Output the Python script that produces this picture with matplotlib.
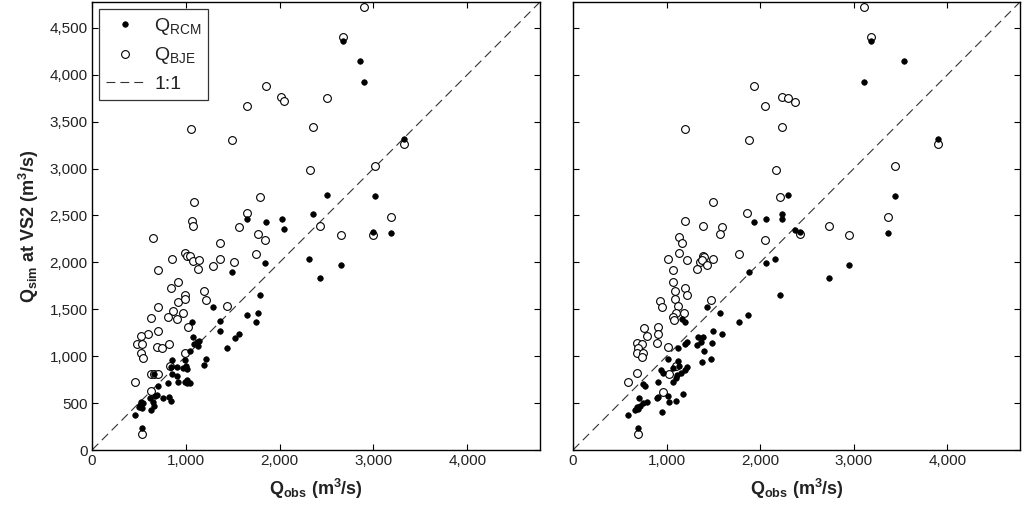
import matplotlib
matplotlib.use("Agg")
import matplotlib.pyplot as plt
from matplotlib.ticker import FuncFormatter

plt.rcParams['font.family'] = ['Liberation Sans', 'DejaVu Sans']
plt.rcParams['mathtext.default'] = 'regular'

# ---- Left panel data (Q_obs, Q_sim) ----
left_rcm_x = [2670, 2860, 2895, 3323, 2501, 3017, 1647, 1854, 2020, 2355, 2042, 2992, 3188, 2316, 2654,
              2426, 1843, 1494, 1793, 1291, 1651, 1772, 1743, 1363, 1363, 1064, 1075, 1046, 1117, 1145,
              1134, 1089, 1519, 1566, 1444, 1217, 1195, 857, 843, 911, 975, 1000, 1011, 993, 857,
              904, 921, 815, 993, 1017, 1011, 1040, 708, 619, 672, 690, 754, 825, 840, 548,
              523, 512, 530, 502, 647, 665, 630, 459, 537, 665]
left_rcm_y = [4360, 4150, 3920, 3319, 2722, 2708, 2466, 2434, 2466, 2516, 2353, 2321, 2313, 2036, 1976,
              1834, 1990, 1894, 1652, 1521, 1436, 1461, 1365, 1379, 1269, 1365, 1208, 1052, 1148, 1165,
              1112, 1133, 1197, 1233, 1091, 970, 909, 963, 888, 885, 875, 900, 865, 959, 807,
              789, 728, 718, 728, 711, 746, 715, 682, 551, 576, 586, 551, 562, 522, 497,
              515, 480, 444, 455, 515, 469, 426, 373, 231, 815]

left_bje_x = [2895, 2670, 1855, 2017, 2042, 2500, 1647, 1060, 1491, 2355, 3323, 3013, 2319, 1793, 1085,
              1647, 3184, 1064, 1078, 1569, 2430, 2654, 2992, 655, 1768, 1839, 1747, 1363, 854, 989,
              1014, 1046, 1081, 1145, 1131, 1288, 1363, 1515, 701, 918, 843, 1192, 1213, 921, 993,
              989, 704, 1444, 630, 861, 968, 811, 907, 704, 1021, 594, 520, 480, 537, 690,
              747, 822, 520, 548, 989, 832, 630, 660, 700, 459, 630, 534]
left_bje_y = [4720, 4400, 3880, 3765, 3717, 3750, 3667, 3425, 3308, 3440, 3260, 3031, 2982, 2694, 2647,
              2530, 2481, 2445, 2388, 2374, 2385, 2289, 2296, 2263, 2303, 2239, 2086, 2207, 2036, 2097,
              2068, 2068, 2012, 2026, 1930, 1965, 2036, 2001, 1919, 1788, 1724, 1692, 1596, 1581, 1652,
              1606, 1521, 1535, 1404, 1479, 1464, 1421, 1393, 1272, 1308, 1233, 1212, 1127, 1133, 1101,
              1087, 1133, 1031, 981, 1031, 899, 815, 815, 810, 722, 626, 167]

# ---- Right panel data (Q_obs, Q_sim) ----
right_rcm_x = [3188, 3532, 3113, 3895, 2298, 3437, 1935, 2060, 2234, 2234, 2373, 2423, 3365, 2060, 2163,
               2740, 2946, 1878, 2209, 1433, 1160, 1195, 1565, 1768, 1868, 1117, 1213, 1195, 1337, 1391,
               1366, 1320, 1497, 1593, 1490, 1401, 1383, 1469, 1017, 1124, 1135, 1071, 1213, 1195, 1149,
               1107, 1071, 1096, 939, 957, 904, 750, 768, 904, 893, 1010, 1028, 1099, 1170, 708,
               680, 715, 750, 786, 697, 661, 584, 953, 690]
right_rcm_y = [4360, 4147, 3920, 3316, 2722, 2708, 2434, 2466, 2516, 2466, 2349, 2324, 2313, 1990, 2036,
               1834, 1976, 1894, 1652, 1521, 1393, 1368, 1464, 1368, 1439, 1084, 1155, 1130, 1208, 1208,
               1155, 1119, 1269, 1233, 1144, 1055, 941, 970, 967, 952, 895, 871, 888, 853, 824,
               800, 728, 764, 853, 818, 722, 700, 686, 562, 551, 576, 515, 526, 597, 551,
               455, 469, 497, 515, 434, 426, 373, 408, 231]

right_bje_x = [3113, 3188, 1935, 2234, 2298, 2372, 2056, 1192, 1878, 2234, 3437, 2166, 2212, 1494, 1864,
               3365, 1192, 1384, 1590, 2740, 2430, 2946, 2056, 1772, 1569, 3895, 1135, 1160, 1131, 1010,
               1220, 1391, 1398, 1355, 1380, 1326, 1433, 1497, 1071, 1064, 1088, 1195, 1213, 1088, 928,
               953, 1470, 1124, 1188, 1099, 1064, 1078, 761, 904, 786, 680, 733, 697, 680, 750,
               739, 904, 893, 1010, 1025, 1100, 680, 584, 957, 690]
right_bje_y = [4720, 4400, 3880, 3763, 3756, 3713, 3667, 3425, 3308, 3440, 3031, 2982, 2697, 2647, 2530,
               2481, 2445, 2385, 2374, 2385, 2300, 2289, 2239, 2086, 2303, 3262, 2268, 2204, 2097, 2036,
               2026, 2068, 2054, 2008, 2026, 1926, 1972, 2036, 1919, 1788, 1695, 1724, 1652, 1606, 1588,
               1521, 1599, 1535, 1464, 1464, 1421, 1386, 1297, 1315, 1215, 1144, 1130, 1084, 1031, 1031,
               988, 1233, 1137, 1101, 810, 900, 818, 722, 622, 167]

axis_max = 4775
x_ticks = [0, 1000, 2000, 3000, 4000]
y_ticks = [0, 500, 1000, 1500, 2000, 2500, 3000, 3500, 4000, 4500]

fig = plt.figure(figsize=(10.24, 5.08), dpi=100)
ax1 = fig.add_axes([92 / 1024, 58 / 508, 448 / 1024, 448 / 508])
ax2 = fig.add_axes([573 / 1024, 58 / 508, 447 / 1024, 448 / 508])

fmt = FuncFormatter(lambda v, p: f"{int(v):,}")
txt_color = '#222222'


def draw(ax, rx, ry, bx, by, ylabels):
    ax.plot([0, axis_max], [0, axis_max], linestyle=(0, (8, 4.5)), color='#333333', lw=0.8,
            label='1:1', zorder=1)
    ax.plot(bx, by, linestyle='none', marker='o', ms=5.6, mfc='white', mec='black', mew=0.8,
            label='Q$_{BJE}$', zorder=2)
    ax.plot(rx, ry, linestyle='none', marker='o', ms=4.0, mfc='black', mec='black', mew=0.5,
            label='Q$_{RCM}$', zorder=3)
    ax.set_xlim(0, axis_max)
    ax.set_ylim(0, axis_max)
    ax.set_xticks(x_ticks)
    ax.set_yticks(y_ticks)
    ax.xaxis.set_major_formatter(fmt)
    ax.yaxis.set_major_formatter(fmt)
    if not ylabels:
        ax.set_yticklabels([])
    ax.tick_params(direction='in', top=True, right=True, length=4, width=0.8,
                   labelsize=11, labelcolor=txt_color, pad=3)
    for s in ax.spines.values():
        s.set_linewidth(1.0)
        s.set_color('black')
    ax.set_xlabel('Q$_{obs}$ (m$^{3}$/s)', fontsize=13, fontweight='bold', labelpad=6,
                  color=txt_color)


draw(ax1, left_rcm_x, left_rcm_y, left_bje_x, left_bje_y, True)
draw(ax2, right_rcm_x, right_rcm_y, right_bje_x, right_bje_y, False)
ax1.set_ylabel('Q$_{sim}$ at VS2 (m$^{3}$/s)', fontsize=13, fontweight='bold', labelpad=6,
               color=txt_color)

h, l = ax1.get_legend_handles_labels()
order = [2, 1, 0]
leg = ax1.legend([h[i] for i in order], [l[i] for i in order], loc='upper left',
                 fontsize=14, frameon=True, fancybox=False, borderpad=0.35,
                 handlelength=2.0, handletextpad=0.5, labelspacing=0.45,
                 bbox_to_anchor=(0.0, 1.0), borderaxespad=0.35)
leg.get_frame().set_edgecolor('black')
leg.get_frame().set_linewidth(0.9)
for t in leg.get_texts():
    t.set_color(txt_color)

fig.savefig('out.png', dpi=100)
